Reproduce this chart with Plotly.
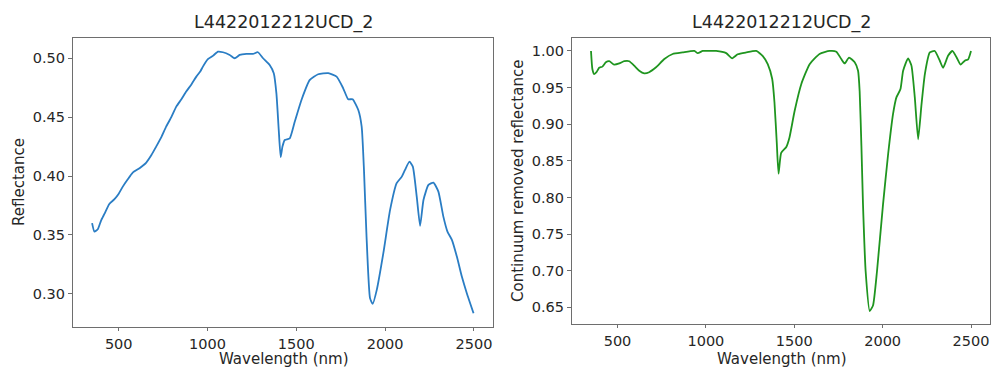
import plotly.graph_objects as go

title_text = "L4422012212UCD_2"

# Left panel: reflectance spectrum
wl_left = [350, 363, 382, 400, 420, 447, 476, 500, 523, 550, 579, 617, 655, 685, 711, 740,
           767, 796, 824, 852, 880, 910, 937, 960, 974, 1002, 1030, 1059, 1087, 1125, 1153,
           1181, 1219, 1256, 1284, 1313, 1350, 1373, 1388, 1401, 1412, 1422, 1435, 1463,
           1491, 1529, 1576, 1623, 1680, 1727, 1764, 1792, 1817, 1849, 1868, 1881, 1895,
           1915, 1930, 1953, 1990, 2028, 2065, 2094, 2112, 2137, 2156, 2178, 2197, 2216,
           2244, 2272, 2300, 2328, 2351, 2376, 2404, 2432, 2460, 2498]
refl_left = [0.360, 0.3528, 0.3548, 0.362, 0.368, 0.3763, 0.3803, 0.385, 0.391, 0.397, 0.4029,
             0.4066, 0.4114, 0.418, 0.425, 0.433, 0.4419, 0.450, 0.4589, 0.465, 0.4717, 0.478,
             0.4844, 0.489, 0.4929, 0.4992, 0.502, 0.5056, 0.5051, 0.5028, 0.500, 0.5028,
             0.5037, 0.5037, 0.5051, 0.500, 0.4943, 0.4873, 0.4700, 0.4391, 0.4160, 0.425,
             0.4306, 0.432, 0.446, 0.4646, 0.4816, 0.4864, 0.4873, 0.4844, 0.4745, 0.4652,
             0.4652, 0.4561, 0.442, 0.405, 0.350, 0.2963, 0.2914, 0.3033, 0.3345, 0.3712,
             0.3939, 0.3995, 0.4052, 0.4122, 0.408, 0.3825, 0.3577, 0.3797, 0.3924, 0.3944,
             0.3868, 0.3655, 0.3528, 0.3458, 0.3316, 0.3146, 0.3005, 0.2835]

# Right panel: continuum removed reflectance
wl_right = [350, 358, 368, 381, 396, 415, 434, 453, 481, 510, 538, 566, 594, 623, 651, 679,
            718, 765, 812, 868, 935, 954, 982, 1001, 1058, 1115, 1149, 1180, 1228, 1285,
            1322, 1350, 1375, 1388, 1401, 1411, 1426, 1455, 1473, 1502, 1540, 1587, 1643,
            1700, 1738, 1766, 1785, 1810, 1842, 1861, 1870, 1880, 1889, 1904, 1927, 1946,
            1968, 2002, 2031, 2059, 2078, 2101, 2116, 2144, 2163, 2182, 2201, 2220, 2239,
            2267, 2295, 2323, 2342, 2371, 2395, 2418, 2441, 2465, 2484, 2500]
crr_right = [1.000, 0.975, 0.9685, 0.971, 0.977, 0.9786, 0.9845, 0.986, 0.9814, 0.983, 0.986,
             0.986, 0.980, 0.973, 0.9695, 0.971, 0.9777, 0.989, 0.9959, 0.998, 1.000, 0.997,
             1.000, 1.000, 1.000, 0.997, 0.990, 0.9955, 0.998, 1.000, 0.993, 0.982, 0.962,
             0.930, 0.875, 0.8325, 0.861, 0.869, 0.882, 0.918, 0.955, 0.982, 0.996, 1.000,
             0.999, 0.989, 0.983, 0.991, 0.9845, 0.973, 0.945, 0.870, 0.790, 0.699, 0.645,
             0.653, 0.699, 0.790, 0.859, 0.914, 0.9366, 0.948, 0.973, 0.990, 0.980, 0.9366,
             0.8795, 0.927, 0.9685, 0.998, 1.000, 0.987, 0.977, 0.9937, 1.000, 0.9914, 0.9814,
             0.9868, 0.9886, 1.000]

W, H = 1003, 367
FONT = "DejaVu Sans"
TXT = "#262626"
FRAME = "#6e6e6e"

def px(x):
    return x / W

def py(y):
    return 1 - y / H

fig = go.Figure()
fig.add_trace(go.Scatter(x=wl_left, y=refl_left, mode="lines",
                         line=dict(color="#2a7dc4", width=1.8, shape="spline", smoothing=0.5),
                         xaxis="x", yaxis="y", showlegend=False))
fig.add_trace(go.Scatter(x=wl_right, y=crr_right, mode="lines",
                         line=dict(color="#1f951f", width=1.8, shape="spline", smoothing=0.5),
                         xaxis="x2", yaxis="y2", showlegend=False))

axis_common = dict(showline=True, linecolor=FRAME, linewidth=1.2, mirror=True,
                   ticks="outside", tickcolor=FRAME, tickwidth=1.2,
                   showgrid=False, zeroline=False, automargin=False,
                   tickfont=dict(family=FONT, size=14.5, color=TXT))

fig.update_layout(
    width=W, height=H,
    margin=dict(l=0, r=0, t=0, b=0, autoexpand=False),
    paper_bgcolor="white", plot_bgcolor="white",
    xaxis=dict(domain=[px(73), px(493)], range=[242.5, 2607.5], anchor="y", ticklen=3,
               tickvals=[500, 1000, 1500, 2000, 2500], **axis_common),
    yaxis=dict(domain=[py(327), py(38)], range=[0.2718, 0.5172], anchor="x", ticklen=4,
               tickvals=[0.30, 0.35, 0.40, 0.45, 0.50], tickformat=".2f", **axis_common),
    xaxis2=dict(domain=[px(572), px(990)], range=[242.5, 2607.5], anchor="y2", ticklen=3,
                tickvals=[500, 1000, 1500, 2000, 2500], **axis_common),
    yaxis2=dict(domain=[py(324), py(38)], range=[0.6273, 1.0177], anchor="x2", ticklen=4,
                tickvals=[0.65, 0.70, 0.75, 0.80, 0.85, 0.90, 0.95, 1.00], tickformat=".2f",
                **axis_common),
    annotations=[
        dict(text=title_text, x=px(283), y=py(22), xref="paper", yref="paper",
             showarrow=False, font=dict(family=FONT, size=17.5, color=TXT),
             xanchor="center", yanchor="middle"),
        dict(text=title_text, x=px(781), y=py(22), xref="paper", yref="paper",
             showarrow=False, font=dict(family=FONT, size=17.5, color=TXT),
             xanchor="center", yanchor="middle"),
        dict(text="Wavelength (nm)", x=px(284), y=py(359), xref="paper", yref="paper",
             showarrow=False, font=dict(family=FONT, size=15, color=TXT),
             xanchor="center", yanchor="middle"),
        dict(text="Wavelength (nm)", x=px(782), y=py(358.5), xref="paper", yref="paper",
             showarrow=False, font=dict(family=FONT, size=15, color=TXT),
             xanchor="center", yanchor="middle"),
        dict(text="Reflectance", x=px(19), y=py(182), xref="paper", yref="paper",
             showarrow=False, textangle=-90, font=dict(family=FONT, size=15, color=TXT),
             xanchor="center", yanchor="middle"),
        dict(text="Continuum removed reflectance", x=px(518), y=py(181), xref="paper",
             yref="paper", showarrow=False, textangle=-90,
             font=dict(family=FONT, size=15, color=TXT),
             xanchor="center", yanchor="middle"),
    ],
)

fig.write_html("out.html", config={"displayModeBar": False},
               post_script="document.body.style.margin='0px';document.body.style.overflow='hidden';")
